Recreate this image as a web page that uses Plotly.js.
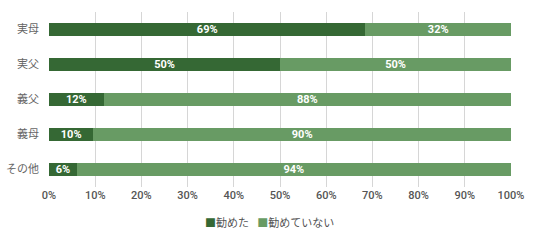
<!DOCTYPE html>
<html>
<head>
<meta charset="utf-8">
<script src="https://cdn.plot.ly/plotly-3.0.1.min.js"></script>
<style>html,body{margin:0;padding:0;background:#fff;}#chart{width:536px;height:241px;}</style>
</head>
<body>
<div id="chart"></div>
<script>
const categories = ['実母', '実父', '義父', '義母', 'その他'];
const recommended = [68.5, 50, 11.8, 9.6, 6.0];
const notRecommended = [31.5, 50, 88.2, 90.4, 94.0];
const seriesNames = ['勧めた', '勧めていない'];
const seriesColors = ['#356834', '#689b64'];
const tickVals = [0, 10, 20, 30, 40, 50, 60, 70, 80, 90, 100];
const tickText = ['0%', '10%', '20%', '30%', '40%', '50%', '60%', '70%', '80%', '90%', '100%'];

const FONT = 'Roboto, "Noto Sans CJK JP", sans-serif';
const common = {
  type: 'bar', orientation: 'h', y: categories,
  texttemplate: '<b>%{x:.0f}%</b>', textposition: 'inside', insidetextanchor: 'middle',
  constraintext: 'none', textangle: 0,
  textfont: {color: '#ffffff', size: 11, family: FONT},
  hoverinfo: 'skip', showlegend: false
};
const data = [
  Object.assign({}, common, {name: seriesNames[0], x: recommended, marker: {color: seriesColors[0]}}),
  Object.assign({}, common, {name: seriesNames[1], x: notRecommended, marker: {color: seriesColors[1]}})
];
const legendText = seriesNames.map((n, i) =>
  '<span style="color:' + seriesColors[i] + '">■</span>' + n).join('&nbsp;&nbsp;&nbsp;');
const layout = {
  width: 536, height: 241,
  margin: {l: 49, r: 25, t: 12, b: 54, autoexpand: false},
  barmode: 'stack', bargap: 0.61,
  paper_bgcolor: '#ffffff', plot_bgcolor: '#ffffff',
  font: {family: FONT, size: 11, color: '#555555'},
  showlegend: false,
  annotations: [{
    text: legendText, xref: 'paper', yref: 'paper', x: 0.478, y: -0.206,
    xanchor: 'center', yanchor: 'middle', showarrow: false,
    font: {size: 11, color: '#555555', family: FONT}
  }],
  xaxis: {range: [0, 100], tickvals: tickVals, ticktext: tickText, showgrid: true, gridcolor: '#d6d6d6',
          gridwidth: 1, zeroline: false, showline: false, ticks: '', fixedrange: true, tickangle: 0,
          tickfont: {size: 11, color: '#555555', family: FONT, weight: 500}},
  yaxis: {autorange: 'reversed', showgrid: false, zeroline: false, showline: false, ticks: '',
          tickfont: {size: 11, color: '#666666', family: FONT}, ticklabelstandoff: 9}
};
Plotly.newPlot('chart', data, layout, {displayModeBar: false, staticPlot: true});
</script>
</body>
</html>
